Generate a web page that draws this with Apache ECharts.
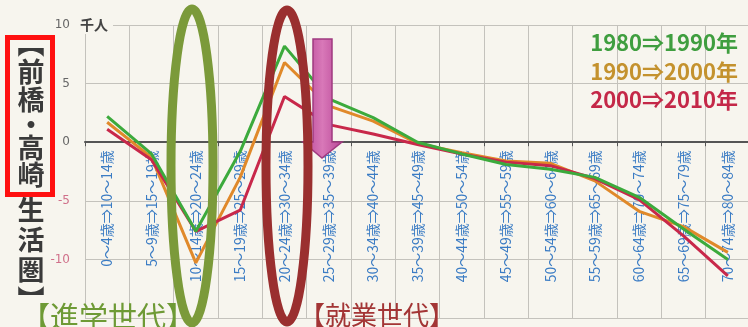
<!DOCTYPE html>
<html>
<head>
<meta charset="utf-8">
<script src="https://cdn.jsdelivr.net/npm/echarts@6/dist/echarts.min.js"></script>
<style>
  html, body { margin: 0; padding: 0; background: #f7f5ee; }
  #chart { width: 748px; height: 327px; }
</style>
</head>
<body>
<div id="chart"></div>
<script>
// age cohort shifts (from -> 10 years later)
const categories = [
    '0〜4歳⇒10〜14歳', '5〜9歳⇒15〜19歳', '10〜14歳⇒20〜24歳', '15〜19歳⇒25〜29歳',
    '20〜24歳⇒30〜34歳', '25〜29歳⇒35〜39歳', '30〜34歳⇒40〜44歳', '35〜39歳⇒45〜49歳',
    '40〜44歳⇒50〜54歳', '45〜49歳⇒55〜59歳', '50〜54歳⇒60〜64歳', '55〜59歳⇒65〜69歳',
    '60〜64歳⇒70〜74歳', '65〜69歳⇒75〜79歳', '70〜74歳⇒80〜84歳'
];

// net migration, thousand people
const s1980 = [2.2, -1.0, -7.6, -0.8, 8.2, 3.7, 2.1, 0.0, -1.0, -1.9, -2.3, -3.0, -4.7, -7.4, -10.0];
const s1990 = [1.7, -1.3, -10.3, -3.0, 6.8, 3.1, 1.8, -0.1, -0.9, -1.6, -1.8, -3.3, -5.9, -7.2, -9.4];
const s2000 = [1.1, -1.5, -7.6, -5.8, 3.9, 1.5, 0.7, -0.2, -1.0, -1.7, -2.0, -3.1, -4.9, -8.0, -11.4];

const seriesNames = ['1980⇒1990年', '1990⇒2000年', '2000⇒2010年'];
const lineColors = ['#3caa3c', '#e0892a', '#c8284a'];
const labelColors = ['#3f9e3f', '#c4922e', '#c42848'];

const yMin = -15, yMax = 10;
const bg = '#f7f5ee';

// vertical title, one glyph per row
const titleChars = ['︻', '前', '橋', '・', '高', '崎', '生', '活', '圏', '︼'];
const titleY = [44, 72, 100, 125, 148, 175, 210, 240, 270, 300];

const gridTop = 25, gridBottom = 9, H = 327;
// move the category axis from the bottom edge up to the zero line
const zeroOffset = -(H - gridTop - gridBottom) * (0 - yMin) / (yMax - yMin);

const chart = echarts.init(document.getElementById('chart'));

const graphics = [];

titleChars.forEach(function (ch, i) {
    graphics.push({
        type: 'text', z: 100, x: 31, y: titleY[i],
        style: {
            text: ch, fill: '#3a3a3a', align: 'center', verticalAlign: 'middle',
            font: 'bold 27px "Noto Sans CJK JP"'
        }
    });
});

graphics.push(
    // red box round the place name
    { type: 'rect', z: 101, shape: { x: 7.5, y: 37.5, width: 45, height: 157 },
      style: { fill: 'none', stroke: '#ff1010', lineWidth: 5 } },
    // unit
    { type: 'text', z: 100, x: 79, y: 25,
      style: { text: '千人', fill: '#444', verticalAlign: 'middle', font: 'bold 14px "Noto Sans CJK JP"',
               backgroundColor: bg, padding: [2, 5, 2, 1] } },
    // highlight ellipses
    { type: 'ellipse', z: 110, shape: { cx: 192, cy: 166, rx: 21, ry: 157 },
      style: { fill: 'none', stroke: '#7b9a3a', lineWidth: 9 } },
    { type: 'ellipse', z: 110, shape: { cx: 287, cy: 166, rx: 21, ry: 156 },
      style: { fill: 'none', stroke: '#9a2f2f', lineWidth: 9 } },
    // pink arrow
    { type: 'polygon', z: 105,
      shape: { points: [[313, 39], [332, 39], [332, 142], [342, 142], [322, 158], [303, 142], [313, 142]] },
      style: {
          fill: new echarts.graphic.LinearGradient(0, 0, 1, 0, [
              { offset: 0, color: '#b84596' },
              { offset: 0.5, color: '#d878b8' },
              { offset: 1, color: '#b84596' }
          ]),
          stroke: '#a03a80', lineWidth: 1.5
      } },
    // bottom captions
    { type: 'text', z: 100, x: 21, y: 317,
      style: { text: '【進学世代】', fill: '#6e9a35', verticalAlign: 'middle', font: '29px "Noto Sans CJK JP"' } },
    { type: 'text', z: 100, x: 299, y: 315,
      style: { text: '【就業世代】', fill: '#a33535', verticalAlign: 'middle', font: '26px "Noto Sans CJK JP"' } }
);

seriesNames.forEach(function (name, i) {
    graphics.push({
        type: 'text', z: 100, x: 738, y: 43 + i * 28.5,
        style: { text: name, fill: labelColors[i], align: 'right', verticalAlign: 'middle',
                 font: 'bold 22px "Noto Sans CJK JP"' }
    });
});

const option = {
    backgroundColor: bg,
    animation: false,
    grid: { left: 85, right: -2, top: gridTop, bottom: gridBottom, containLabel: false, outerBoundsMode: 'none' },
    xAxis: [
        {
            // grid columns only
            type: 'category',
            data: categories,
            boundaryGap: true,
            axisLine: { show: false },
            axisTick: { show: false },
            axisLabel: { show: false },
            splitLine: { show: true, interval: 0, lineStyle: { color: '#c4c2bc', width: 1 } }
        },
        {
            // visible axis sitting on y = 0
            type: 'category',
            data: categories,
            position: 'bottom',
            offset: zeroOffset,
            boundaryGap: true,
            axisLine: { show: true, onZero: false, lineStyle: { color: '#555', width: 2 } },
            axisTick: { show: true, length: 4, lineStyle: { color: '#555' } },
            axisLabel: {
                rotate: 90, interval: 0, margin: 8,
                color: '#3b7cc4', fontSize: 14, fontFamily: 'Noto Sans CJK JP'
            },
            splitLine: { show: false }
        }
    ],
    yAxis: {
        type: 'value',
        min: yMin, max: yMax, interval: 5,
        axisLine: { show: true, lineStyle: { color: '#c4c2bc' } },
        axisTick: { show: false },
        axisLabel: {
            margin: 15, fontSize: 12, fontFamily: 'DejaVu Sans',
            color: function (v) { return v < 0 ? '#d0708a' : '#666'; },
            formatter: function (v) { return v === -15 ? '' : String(v); }
        },
        splitLine: { lineStyle: { color: '#c4c2bc', width: 1 } }
    },
    series: [
        { name: seriesNames[1], type: 'line', data: s1990, symbol: 'none',
          lineStyle: { color: lineColors[1], width: 3 }, z: 3 },
        { name: seriesNames[2], type: 'line', data: s2000, symbol: 'none',
          lineStyle: { color: lineColors[2], width: 3 }, z: 4 },
        { name: seriesNames[0], type: 'line', data: s1980, symbol: 'none',
          lineStyle: { color: lineColors[0], width: 3 }, z: 5 }
    ],
    graphic: graphics
};

chart.setOption(option);
</script>
</body>
</html>
